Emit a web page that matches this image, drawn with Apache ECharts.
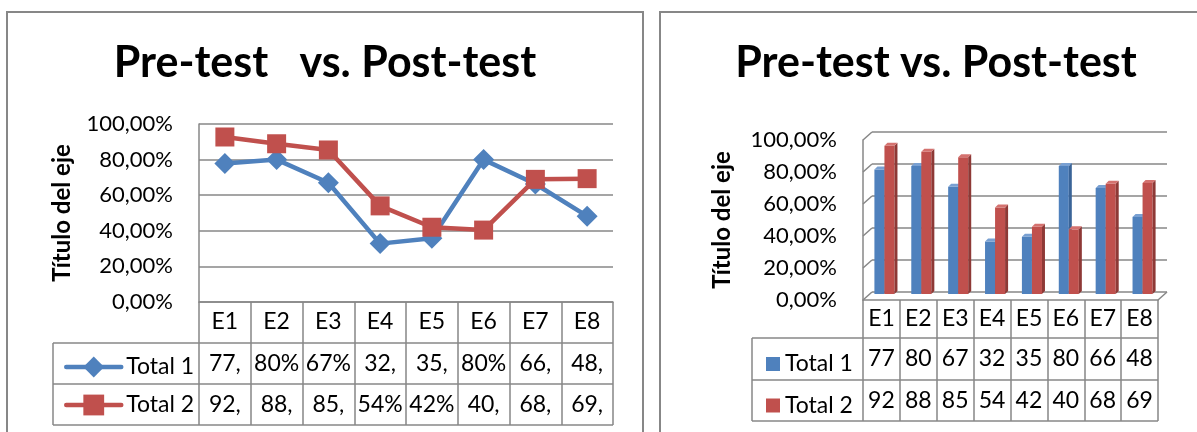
<!DOCTYPE html>
<html lang="es">
<head>
<meta charset="UTF-8">
<title>Pre-test vs. Post-test</title>
<script src="https://cdn.jsdelivr.net/npm/echarts@6/dist/echarts.min.js"></script>
<style>html,body{margin:0;padding:0;background:#fff;}</style>
</head>
<body>
<div id="grafico" style="width:1197px;height:432px;"></div>
<script>
// datos (porcentajes)
var categorias = ['E1', 'E2', 'E3', 'E4', 'E5', 'E6', 'E7', 'E8'];
var total1 = [77.8, 80, 67, 32.8, 35.8, 80, 66.3, 48.2];
var total2 = [92.7, 88.9, 85.4, 54, 42, 40.4, 68.9, 69.3];
var nombres = ['Total 1', 'Total 2'];
var ejeMin = 0, ejeMax = 100, ejePaso = 20;

var colores = ['#4F81BD', '#C0504D'];
var lateral = ['#3a6498', '#8e3936'];
var tapa = ['#79a0d2', '#d4726f'];
var gris = '#878787';
var fuente = 'Lato';

// posiciones de los graficos
var gIzq = {left: 199, top: 124, width: 414, height: 178};
var gFondo = {left: 872, top: 132, width: 295, height: 160};
var gFrente = {left: 863, top: 140, width: 295, height: 160};
var gBarras = {left: 866, top: 134, width: 295, height: 160};
var filasIzq = [302, 343, 384, 425];
var filasDer = [300, 338, 380, 421];

function pct(v) { return v.toFixed(2).replace('.', ',') + '%'; }
function celdaLinea(v) { return v % 1 === 0 ? v + '%' : Math.floor(v) + ','; }
function celdaBarra(v) { return String(Math.floor(v)); }

function barra3d(k) {
    return function (params, api) {
        var i = api.value(0), v = api.value(1);
        var base = api.coord([i, 0]), cima = api.coord([i, v]);
        var w = api.size([1, 0])[0] * 0.272;
        var x0 = base[0] - w + k * w;
        var y0 = cima[1], y1 = base[1];
        var dx = 3, dy = 3;
        return {
            type: 'group',
            children: [
                {type: 'rect', shape: {x: x0, y: y0, width: w, height: y1 - y0}, style: {fill: colores[k]}},
                {type: 'polygon', shape: {points: [[x0 + w, y0], [x0 + w + dx, y0 - dy], [x0 + w + dx, y1 - dy], [x0 + w, y1]]}, style: {fill: lateral[k]}},
                {type: 'polygon', shape: {points: [[x0, y0], [x0 + dx, y0 - dy], [x0 + w + dx, y0 - dy], [x0 + w, y0]]}, style: {fill: tapa[k]}}
            ]
        };
    };
}

var txt = {fontFamily: fuente, color: '#000'};
var myChart = echarts.init(document.getElementById('grafico'));

var option = {
    animation: false,
    textStyle: {fontFamily: fuente},
    grid: [
        Object.assign({outerBoundsMode: 'none'}, gIzq),
        Object.assign({outerBoundsMode: 'none'}, gFondo),
        Object.assign({outerBoundsMode: 'none'}, gFrente),
        Object.assign({outerBoundsMode: 'none'}, gBarras)
    ],
    legend: [
        {
            orient: 'vertical', left: 59, top: 350.5, itemWidth: 55, itemHeight: 26, itemGap: 15,
            selectedMode: false, data: nombres,
            lineStyle: {width: 4.5, cap: 'round'},
            textStyle: {fontFamily: fuente, fontSize: 23, lineHeight: 22, color: '#000'}
        },
        {
            orient: 'vertical', left: 761, top: 347, itemWidth: 14, itemHeight: 14, itemGap: 17.5,
            selectedMode: false,
            data: nombres.map(function (n, k) { return {name: n, icon: 'rect', itemStyle: {color: colores[k]}}; }),
            textStyle: {fontFamily: fuente, fontSize: 23, lineHeight: 24, color: '#000'}
        }
    ],
    xAxis: [
        {
            gridIndex: 0, type: 'category', data: categorias,
            axisLine: {lineStyle: {color: gris, width: 1.5}},
            axisTick: {show: true, length: filasIzq[3] - filasIzq[0], lineStyle: {color: gris, width: 1.5}},
            axisLabel: Object.assign({fontSize: 23, lineHeight: 24, margin: 8}, txt)
        },
        {gridIndex: 1, type: 'category', data: categorias, show: false},
        {
            gridIndex: 2, type: 'category', data: categorias,
            axisLine: {lineStyle: {color: gris, width: 1.5}},
            axisTick: {show: true, length: filasDer[3] - filasDer[0], lineStyle: {color: gris, width: 1.5}},
            axisLabel: Object.assign({fontSize: 23, lineHeight: 24, margin: 7}, txt)
        },
        {gridIndex: 3, type: 'category', data: categorias, show: false}
    ],
    yAxis: [
        {
            gridIndex: 0, type: 'value', min: ejeMin, max: ejeMax, interval: ejePaso,
            name: 'Título del eje', nameLocation: 'middle', nameGap: 125, nameRotate: 90,
            nameTextStyle: Object.assign({fontSize: 24, fontWeight: 'bold'}, txt),
            axisLine: {show: true, lineStyle: {color: gris, width: 1.5}},
            axisTick: {show: false},
            splitLine: {lineStyle: {color: gris, width: 1.5}},
            axisLabel: Object.assign({fontSize: 22, margin: 26, formatter: pct}, txt)
        },
        {
            gridIndex: 1, type: 'value', min: ejeMin, max: ejeMax, interval: ejePaso,
            axisLine: {show: false}, axisTick: {show: false}, axisLabel: {show: false},
            splitLine: {lineStyle: {color: gris, width: 1.5}}
        },
        {
            gridIndex: 2, type: 'value', min: ejeMin, max: ejeMax, interval: ejePaso,
            name: 'Título del eje', nameLocation: 'middle', nameGap: 129, nameRotate: 90,
            nameTextStyle: Object.assign({fontSize: 24, fontWeight: 'bold'}, txt),
            axisLine: {show: true, lineStyle: {color: gris, width: 1.5}},
            axisTick: {show: false}, splitLine: {show: false},
            axisLabel: Object.assign({fontSize: 22, margin: 26, formatter: pct}, txt)
        },
        {gridIndex: 3, type: 'value', min: ejeMin, max: ejeMax, show: false, splitLine: {show: false}}
    ],
    series: [
        {
            name: nombres[0], type: 'line', xAxisIndex: 0, yAxisIndex: 0, data: total1,
            symbol: 'diamond', symbolSize: 21,
            lineStyle: {color: colores[0], width: 4.5}, itemStyle: {color: colores[0]}
        },
        {
            name: nombres[1], type: 'line', xAxisIndex: 0, yAxisIndex: 0, data: total2,
            symbol: 'rect', symbolSize: 19,
            lineStyle: {color: colores[1], width: 4.5}, itemStyle: {color: colores[1]}
        },
        {
            name: nombres[0], type: 'custom', xAxisIndex: 3, yAxisIndex: 3,
            itemStyle: {color: colores[0]}, renderItem: barra3d(0),
            data: total1.map(function (v, i) { return [i, v]; })
        },
        {
            name: nombres[1], type: 'custom', xAxisIndex: 3, yAxisIndex: 3,
            itemStyle: {color: colores[1]}, renderItem: barra3d(1),
            data: total2.map(function (v, i) { return [i, v]; })
        }
    ]
};
myChart.setOption(option);

// marcos, titulos, tablas de datos y paredes 3D
var g = [];
function linea(x1, y1, x2, y2) {
    g.push({type: 'line', shape: {x1: x1, y1: y1, x2: x2, y2: y2}, style: {stroke: gris, lineWidth: 1.5}, silent: true});
}
g.push({type: 'rect', shape: {x: 7, y: 12, width: 636, height: 460}, style: {fill: null, stroke: gris, lineWidth: 2}});
g.push({type: 'rect', shape: {x: 660, y: 12, width: 570, height: 460}, style: {fill: null, stroke: gris, lineWidth: 2}});
g.push({type: 'text', x: 325, y: 63, style: {text: 'Pre-test   vs. Post-test', font: 'bold 43px ' + fuente, fill: '#000', textAlign: 'center', textVerticalAlign: 'middle'}});
g.push({type: 'text', x: 936, y: 63, style: {text: 'Pre-test vs. Post-test', font: 'bold 43px ' + fuente, fill: '#000', textAlign: 'center', textVerticalAlign: 'middle'}});

// tabla izquierda
var finIzq = gIzq.left + gIzq.width;
[1, 2, 3].forEach(function (r) { linea(53, filasIzq[r], finIzq, filasIzq[r]); });
linea(53, filasIzq[1], 53, filasIzq[3]);
// tabla derecha
var finDer = gFrente.left + gFrente.width;
[1, 2, 3].forEach(function (r) { linea(752, filasDer[r], finDer, filasDer[r]); });
linea(752, filasDer[1], 752, filasDer[3]);

[total1, total2].forEach(function (serie, r) {
    serie.forEach(function (v, i) {
        var xa = myChart.convertToPixel({xAxisIndex: 0}, categorias[i]);
        var xb = myChart.convertToPixel({xAxisIndex: 2}, categorias[i]);
        g.push({type: 'text', x: xa, y: (filasIzq[r + 1] + filasIzq[r + 2]) / 2,
            style: {text: celdaLinea(v), font: '23px ' + fuente, fill: '#000', textAlign: 'center', textVerticalAlign: 'middle'}});
        g.push({type: 'text', x: xb, y: (filasDer[r + 1] + filasDer[r + 2]) / 2,
            style: {text: celdaBarra(v), font: '23px ' + fuente, fill: '#000', textAlign: 'center', textVerticalAlign: 'middle'}});
    });
});

// pared lateral y suelo
for (var v = ejeMin; v <= ejeMax; v += ejePaso) {
    var yF = myChart.convertToPixel({yAxisIndex: 2}, v);
    var yB = myChart.convertToPixel({yAxisIndex: 1}, v);
    linea(gFrente.left, yF, gFondo.left, yB);
}
linea(finDer, myChart.convertToPixel({yAxisIndex: 2}, ejeMin), gFondo.left + gFondo.width, myChart.convertToPixel({yAxisIndex: 1}, ejeMin));

myChart.setOption({graphic: g});
</script>
</body>
</html>
